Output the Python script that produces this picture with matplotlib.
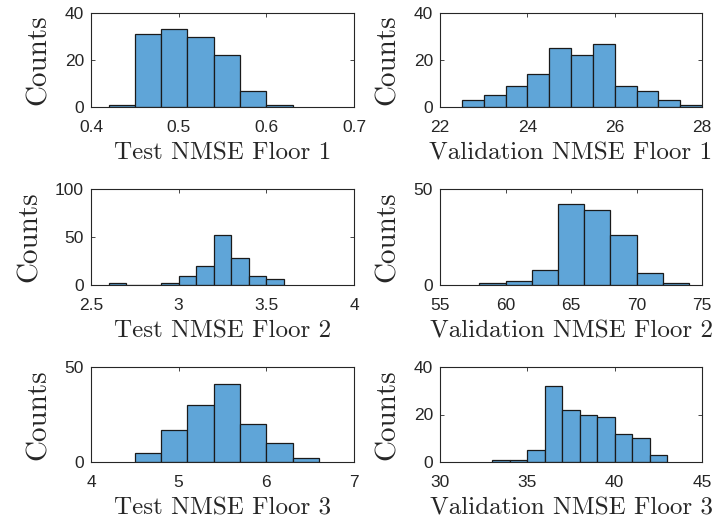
import matplotlib
matplotlib.use("Agg")
import matplotlib.pyplot as plt
import numpy as np

# ---- data ----
t1_edges = [0.42, 0.45, 0.48, 0.51, 0.54, 0.57, 0.60, 0.63]
t1_counts = [1, 31, 33, 30, 22, 7, 1]

v1_edges = [22.5, 23.0, 23.5, 24.0, 24.5, 25.0, 25.5, 26.0, 26.5, 27.0, 27.5, 28.0]
v1_counts = [3, 5, 9, 14, 25, 22, 27, 9, 7, 3, 1]

t2_edges = [2.6, 2.7, 2.8, 2.9, 3.0, 3.1, 3.2, 3.3, 3.4, 3.5, 3.6]
t2_counts = [2, 0, 0, 2, 9, 20, 52, 28, 9, 6]

v2_edges = [58, 60, 62, 64, 66, 68, 70, 72, 74]
v2_counts = [1, 2, 8, 42, 39, 26, 6, 1]

t3_edges = [4.5, 4.8, 5.1, 5.4, 5.7, 6.0, 6.3, 6.6]
t3_counts = [5, 17, 30, 41, 20, 10, 2]

v3_edges = [33, 34, 35, 36, 37, 38, 39, 40, 41, 42, 43]
v3_counts = [1, 1, 5, 32, 22, 20, 19, 12, 10, 3]

xlabels = ["Test NMSE Floor 1", "Validation NMSE Floor 1",
           "Test NMSE Floor 2", "Validation NMSE Floor 2",
           "Test NMSE Floor 3", "Validation NMSE Floor 3"]

xlims = [(0.4, 0.7), (22, 28), (2.5, 4), (55, 75), (4, 7), (30, 45)]
xticks = [[0.4, 0.5, 0.6, 0.7], [22, 24, 26, 28], [2.5, 3, 3.5, 4],
          [55, 60, 65, 70, 75], [4, 5, 6, 7], [30, 35, 40, 45]]
xticklabels = [["0.4", "0.5", "0.6", "0.7"], ["22", "24", "26", "28"],
               ["2.5", "3", "3.5", "4"], ["55", "60", "65", "70", "75"],
               ["4", "5", "6", "7"], ["30", "35", "40", "45"]]
ylims = [(0, 40), (0, 40), (0, 100), (0, 50), (0, 50), (0, 40)]
yticks = [[0, 20, 40], [0, 20, 40], [0, 50, 100], [0, 50], [0, 50], [0, 20, 40]]

edges_all = [t1_edges, v1_edges, t2_edges, v2_edges, t3_edges, v3_edges]
counts_all = [t1_counts, v1_counts, t2_counts, v2_counts, t3_counts, v3_counts]

# ---- layout ----
W, H = 715, 522
fig = plt.figure(figsize=(W / 100, H / 100), dpi=100)

col_px = [(91, 354), (440, 702)]
row_px = [(13, 107), (189, 285), (367, 462)]

face = "#5fa5d8"
axcol = "#262626"

for i in range(6):
    r, c = divmod(i, 2)
    x0, x1 = col_px[c]
    y0, y1 = row_px[r]
    ax = fig.add_axes([x0 / W, 1 - y1 / H, (x1 - x0) / W, (y1 - y0) / H])
    e = np.array(edges_all[i], dtype=float)
    cnt = np.array(counts_all[i], dtype=float)
    ax.bar(e[:-1], cnt, width=np.diff(e), align="edge", color=face,
           edgecolor="#1a1a1a", linewidth=0.9, zorder=2)
    ax.set_xlim(*xlims[i])
    ax.set_ylim(*ylims[i])
    ax.set_xticks(xticks[i])
    ax.set_xticklabels(xticklabels[i])
    ax.set_yticks(yticks[i])
    ax.set_yticklabels([str(v) for v in yticks[i]])
    for sp in ax.spines.values():
        sp.set_color(axcol)
        sp.set_linewidth(0.8)
    ax.tick_params(axis="both", direction="in", top=True, right=True,
                   length=3, width=0.6, color=axcol, labelcolor="#262626",
                   labelsize=12.5)
    ax.tick_params(axis="x", pad=9.5)
    ax.tick_params(axis="y", pad=5)
    for lab in ax.get_xticklabels() + ax.get_yticklabels():
        lab.set_fontfamily("Liberation Sans")
    ax.set_xlabel(xlabels[i], fontfamily="cmr10", fontsize=18,
                  color="#262626", labelpad=5)
    ax.set_ylabel("Counts", fontfamily="cmr10", fontsize=21,
                  color="#262626", labelpad=9)

fig.savefig("out.png", dpi=100)
